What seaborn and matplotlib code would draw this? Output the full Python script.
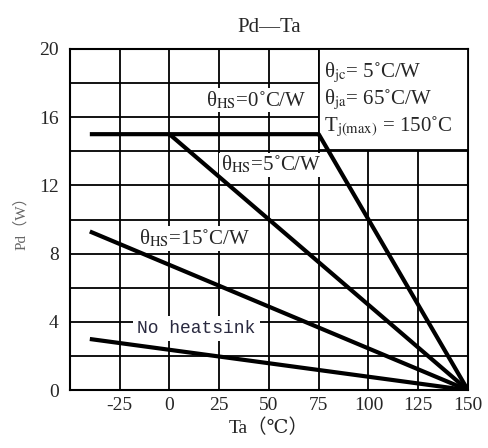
import pandas as pd
import numpy as np
import matplotlib.pyplot as plt
import seaborn as sns
from matplotlib.patches import Rectangle

# derating curves, Ta (C) vs Pd (W)
hs0_ta = [-40, 75, 150]
hs0_pd = [15, 15, 0]
hs5_ta = [0, 150]
hs5_pd = [15, 0]
hs15_ta = [-40, 150]
hs15_pd = [9.3, 0]
nohs_ta = [-40, 150]
nohs_pd = [3.0, 0]

x_ticks = [-25, 0, 25, 50, 75, 100, 125, 150]
y_ticks = [0, 4, 8, 12, 16, 20]

sns.set_style("white")
serif = ["Liberation Serif", "DejaVu Serif", "Noto Sans CJK SC"]
plt.rcParams["font.family"] = serif
plt.rcParams["mathtext.fontset"] = "stix"
plt.rcParams["axes.unicode_minus"] = False

fig = plt.figure(figsize=(4.89, 4.48), dpi=100)
ax = fig.add_axes([0.143, 0.129, 0.814, 0.762])

curves = {"hs0": (hs0_ta, hs0_pd), "hs5": (hs5_ta, hs5_pd),
          "hs15": (hs15_ta, hs15_pd), "nohs": (nohs_ta, nohs_pd)}
for name, (ta, pd_w) in curves.items():
    df = pd.DataFrame({"Ta": ta, "Pd": pd_w})
    sns.lineplot(data=df, x="Ta", y="Pd", ax=ax, color="black", lw=3.0,
                 sort=False, zorder=4, solid_capstyle="butt")

ax.set_xlim(-50, 150)
ax.set_ylim(0, 20)
ax.set_xticks(x_ticks)
ax.set_yticks(y_ticks)
ax.set_yticks(np.arange(0, 21, 2), minor=True)
ax.set_xticks([-50] + x_ticks, minor=True)
ax.grid(True, which="both", color="black", lw=1.3)
ax.tick_params(which="both", length=0, labelsize=14, pad=5)
ax.tick_params(axis="y", pad=8)
for s in ax.spines.values():
    s.set_color("black")
    s.set_linewidth(1.5)
ax.set_axisbelow(True)

ax.set_xlabel("Ta（℃）", fontsize=14, labelpad=3)
ax.set_ylabel("Pd（W）", fontsize=11, color="#666666", labelpad=8)
ax.set_title("Pd—Ta", fontsize=15, pad=12)

# parameter box in the upper right
ax.add_patch(Rectangle((75, 14.1), 75, 5.9, facecolor="white",
                       edgecolor="black", lw=1.3, zorder=3))
ax.text(77.5, 18.6, "θ$_{\\rm jc}$= 5˚C/W", fontsize=15, va="center", zorder=5)
ax.text(77.5, 17.0, "θ$_{\\rm ja}$= 65˚C/W", fontsize=15, va="center", zorder=5)
ax.text(77.5, 15.4, "T$_{\\rm j(max)}$ = 150˚C", fontsize=15, va="center", zorder=5)

box = dict(facecolor="white", edgecolor="none", pad=1)
ax.text(43.5, 17.0, "θ$_{\\rm HS}$=0˚C/W", fontsize=15, ha="center",
        va="center", bbox=box, zorder=3)
ax.text(51, 13.2, "θ$_{\\rm HS}$=5˚C/W", fontsize=15, ha="center",
        va="center", bbox=box, zorder=3)
ax.text(12.5, 8.9, "θ$_{\\rm HS}$=15˚C/W", fontsize=15, ha="center",
        va="center", bbox=box, zorder=3)
ax.text(13.5, 3.6, "No heatsink", fontsize=13, ha="center", va="center",
        family=["Liberation Mono", "DejaVu Sans Mono"], color="#2a2a40",
        bbox=dict(facecolor="white", edgecolor="none", pad=3), zorder=3)

fig.savefig("out.png", dpi=100)
